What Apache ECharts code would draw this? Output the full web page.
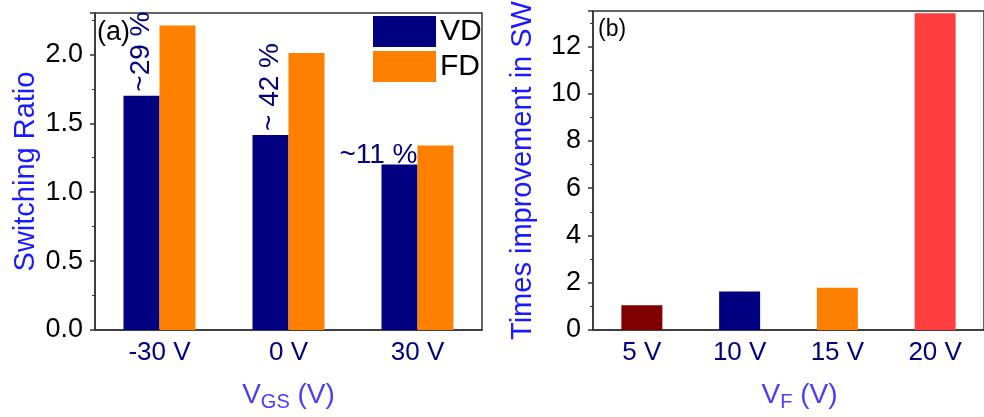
<!DOCTYPE html>
<html>
<head>
<meta charset="utf-8">
<script src="https://cdn.jsdelivr.net/npm/echarts@6/dist/echarts.min.js"></script>
<style>
  html, body { margin: 0; padding: 0; background: #fff; }
  #chart { width: 984px; height: 417px; }
</style>
</head>
<body>
<div id="chart"></div>
<script>
// panel (a): switching ratio vs gate voltage
const gateCategories = ['-30 V', '0 V', '30 V']
const vdValues = [1.70, 1.415, 1.20]
const fdValues = [2.21, 2.01, 1.338]
const vdNotes = ['~29 %', '~ 42 %', '~11 %']

// panel (b): times improvement vs floating voltage
const floatCategories = ['5 V', '10 V', '15 V', '20 V']
const improvementValues = [1.05, 1.63, 1.785, 13.4]
const improvementColors = ['#800000', '#000080', '#ff8000', '#fd3f3f']

const FONT = '"Liberation Sans", Arial, sans-serif'
const NAVY = '#000080'
const TITLE_BLUE = '#1a1aff'
const NAME_BLUE = '#4a3cff'

function noteLabel(i) {
  if (i < 2) {
    return {
      show: true,
      formatter: vdNotes[i],
      position: 'top',
      distance: 1,
      rotate: 90,
      align: 'left',
      verticalAlign: 'middle',
      offset: [3, 0],
      color: NAVY,
      fontSize: 28,
      fontFamily: FONT
    }
  }
  return {
    show: true,
    formatter: vdNotes[i],
    position: 'top',
    distance: 0,
    align: 'right',
    offset: [18, 5],
    color: NAVY,
    fontSize: 28,
    fontFamily: FONT
  }
}

function valueAxis(gridIndex, max, interval, digits, name, nameGap) {
  return {
    type: 'value',
    gridIndex: gridIndex,
    min: 0,
    max: max,
    interval: interval,
    name: name,
    nameLocation: 'middle',
    nameGap: nameGap,
    nameTextStyle: { color: TITLE_BLUE, fontSize: 29, fontFamily: FONT },
    axisLine: { show: true, lineStyle: { color: '#333', width: 1.5 } },
    axisTick: { show: true, inside: false, length: 5, lineStyle: { color: '#333', width: 1.5 } },
    minorTick: { show: true, splitNumber: 2, length: 3, lineStyle: { color: '#333', width: 1 } },
    splitLine: { show: false },
    axisLabel: {
      color: '#000',
      fontSize: 27,
      fontFamily: FONT,
      margin: 12,
      showMaxLabel: false,
      formatter: v => v.toFixed(digits)
    }
  }
}

function categoryAxis(gridIndex, data, nameRich, padding) {
  return {
    type: 'category',
    gridIndex: gridIndex,
    data: data,
    name: nameRich,
    nameLocation: 'middle',
    nameGap: 48,
    nameTextStyle: {
      color: NAME_BLUE,
      fontSize: 28,
      fontFamily: FONT,
      padding: padding,
      rich: {
        sub: { color: NAME_BLUE, fontSize: 20, fontFamily: FONT, verticalAlign: 'bottom', padding: [14, 0, 0, 0] }
      }
    },
    axisLine: { show: true, lineStyle: { color: '#333', width: 1.5 } },
    axisTick: { show: false },
    splitLine: { show: false },
    axisLabel: { color: NAVY, fontSize: 26, fontFamily: FONT, margin: 10 }
  }
}

const chart = echarts.init(document.getElementById('chart'), null, { renderer: 'canvas' })

chart.setOption({
  animation: false,
  backgroundColor: '#fff',
  textStyle: { fontFamily: FONT },
  grid: [
    { left: 95, top: 13, width: 387, height: 320, show: true, borderColor: '#333', borderWidth: 1.5, backgroundColor: 'transparent' },
    { left: 593, top: 11, width: 396, height: 321, show: true, borderColor: '#333', borderWidth: 1.5, backgroundColor: 'transparent' }
  ],
  legend: {
    data: ['VD', 'FD'],
    orient: 'vertical',
    left: 373,
    top: 16,
    padding: 0,
    itemWidth: 63,
    itemHeight: 31,
    itemGap: 4,
    icon: 'rect',
    textStyle: { color: '#000', fontSize: 30, fontFamily: FONT, padding: [0, 0, 0, -1] }
  },
  xAxis: [
    categoryAxis(0, gateCategories, 'V{sub|GS} (V)', [0, 0, 0, 0]),
    categoryAxis(1, floatCategories, 'V{sub|F} (V)', [0, 0, 0, 22])
  ],
  yAxis: [
    valueAxis(0, 2.3, 0.5, 1, 'Switching Ratio', 55),
    valueAxis(1, 13.5, 2, 0, 'Times improvement in SW', 56)
  ],
  graphic: [
    { type: 'text', left: 97, top: 19, style: { text: '(a)', fontSize: 27, fontFamily: FONT, fill: '#000' } },
    { type: 'text', left: 598, top: 18, style: { text: '(b)', fontSize: 23, fontFamily: FONT, fill: '#000' } }
  ],
  series: [
    {
      name: 'VD',
      type: 'bar',
      xAxisIndex: 0,
      yAxisIndex: 0,
      barWidth: 36,
      barGap: '0%',
      itemStyle: { color: NAVY },
      data: vdValues.map((v, i) => ({ value: v, label: noteLabel(i) }))
    },
    {
      name: 'FD',
      type: 'bar',
      xAxisIndex: 0,
      yAxisIndex: 0,
      barWidth: 36,
      barGap: '0%',
      itemStyle: { color: '#ff8000' },
      data: fdValues
    },
    {
      name: 'Improvement',
      type: 'bar',
      xAxisIndex: 1,
      yAxisIndex: 1,
      barWidth: 41,
      data: improvementValues.map((v, i) => ({ value: v, itemStyle: { color: improvementColors[i] } }))
    }
  ]
})
</script>
</body>
</html>
